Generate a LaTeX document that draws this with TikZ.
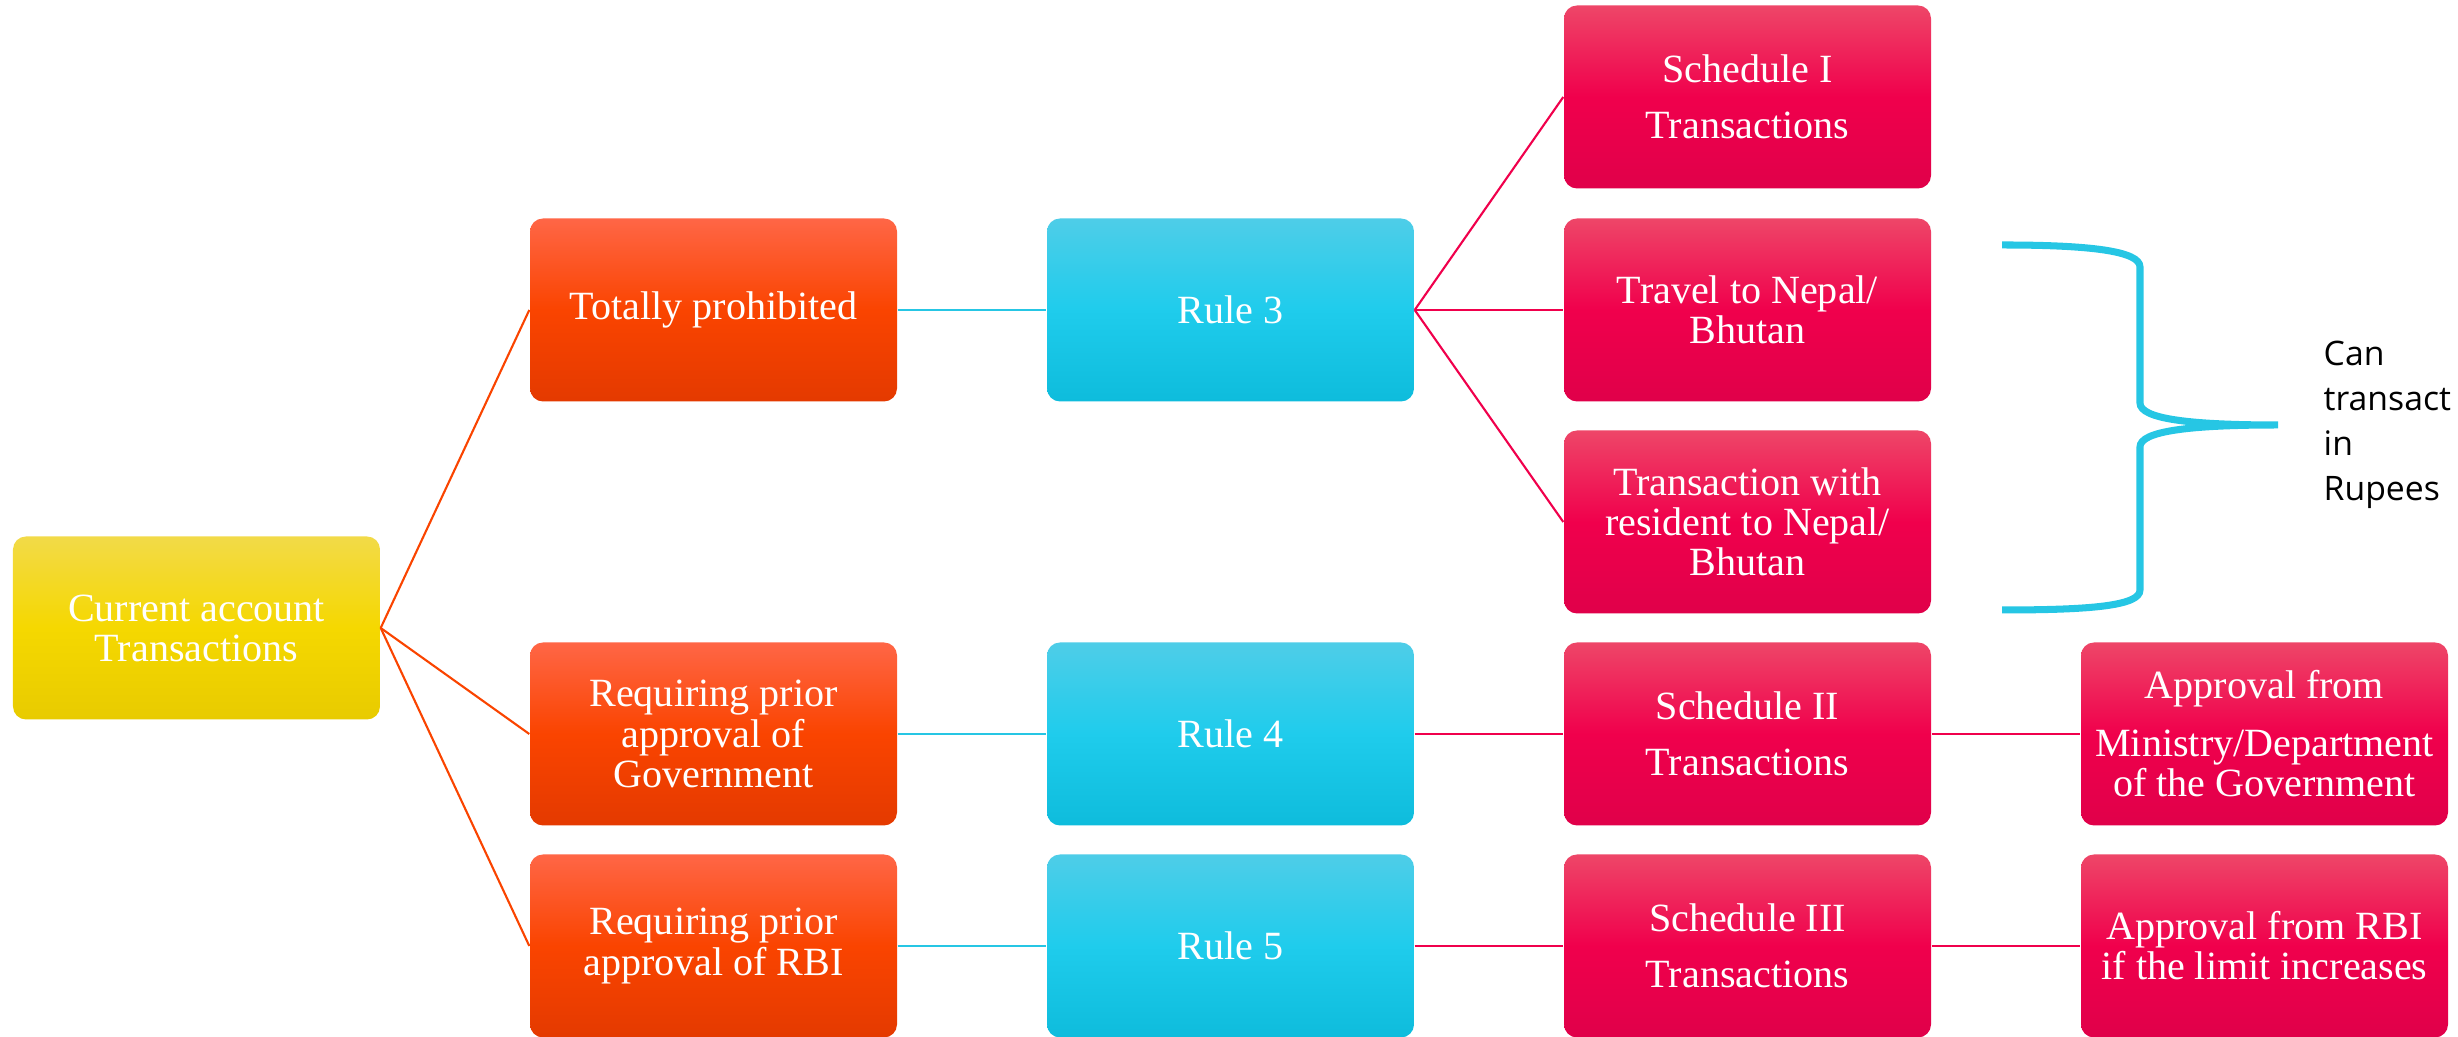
\documentclass[tikz,border=0pt]{standalone}
\usepackage{fontspec}
\setmainfont{Liberation Serif}
\newfontfamily\hinweisschrift{Open Sans}
\usetikzlibrary{positioning}

\begin{document}
\begin{tikzpicture}[node distance=5.17cm,auto]
\definecolor{gelbA}{RGB}{242,218,72}\definecolor{gelbB}{RGB}{245,216,0}\definecolor{gelbC}{RGB}{232,203,0}
\definecolor{orangeA}{RGB}{255,102,70}\definecolor{orangeB}{RGB}{250,68,0}\definecolor{orangeC}{RGB}{228,58,0}
\definecolor{tuerkisA}{RGB}{78,205,232}\definecolor{tuerkisB}{RGB}{31,204,236}\definecolor{tuerkisC}{RGB}{14,188,220}
\definecolor{rotA}{RGB}{238,70,104}\definecolor{rotB}{RGB}{240,0,76}\definecolor{rotC}{RGB}{224,0,74}
\definecolor{klammer}{RGB}{38,198,228}
\tikzstyle{kasten}=[rectangle,rounded corners=0.13cm,minimum width=3.67cm,minimum height=1.83cm,inner sep=2pt,align=center,text=white,font=\fontsize{11.4pt}{11.4pt}\selectfont]
\tikzstyle{wurzel}=[kasten,top color=gelbA,bottom color=gelbC,middle color=gelbB]
\tikzstyle{stufe}=[kasten,top color=orangeA,bottom color=orangeC,middle color=orangeB]
\tikzstyle{regel}=[kasten,top color=tuerkisA,bottom color=tuerkisC,middle color=tuerkisB]
\tikzstyle{liste}=[kasten,top color=rotA,bottom color=rotC,middle color=rotB]
\tikzstyle{linie}=[line width=0.6pt]

\useasboundingbox (0,0) rectangle (24.58,10.37);

\node[wurzel] (konto) at (1.965,4.09) {Current account\\Transactions};
% erste Spalte
\node[stufe] (verboten) at (7.135,7.27) {Totally prohibited};
\node[stufe] (regierung) at (7.135,3.03) {Requiring prior\\approval of\\Government};
\node[stufe] (rbi) at (7.135,0.91) {Requiring prior\\approval of RBI};
% Regeln
\node[regel,right of=verboten] (regel3) {Rule 3};
\node[regel,right of=regierung] (regel4) {Rule 4};
\node[regel,right of=rbi] (regel5) {Rule 5};
% Schedules
\node[liste,right of=regel3] (reise) {Travel to Nepal/\\Bhutan};
\node[liste,node distance=2.13cm,above of=reise] (schedEins) {Schedule I\\[0.16cm]Transactions};
\node[liste,node distance=2.12cm,below of=reise] (bewohner) {Transaction with\\resident to Nepal/\\Bhutan};
\node[liste,right of=regel4] (schedZwei) {Schedule II\\[0.16cm]Transactions};
\node[liste,right of=regel5] (schedDrei) {Schedule III\\[0.16cm]Transactions};
\node[liste,right of=schedZwei] (ministerium) {Approval from\\[0.18cm]Ministry/Department\\of the Government};
\node[liste,right of=schedDrei] (rbiOk) {Approval from RBI\\if the limit increases};

\draw[linie,orangeB] (konto.east) -- (verboten.west);
\draw[linie,orangeB] (konto.east) -- (regierung.west);
\draw[linie,orangeB] (konto.east) -- (rbi.west);

\draw[linie,klammer] (verboten) -- (regel3);
\draw[linie,klammer] (regierung) -- (regel4);
\draw[linie,klammer] (rbi) -- (regel5);

\draw[linie,rotB] (regel3.east) -- (schedEins.west);
\draw[linie,rotB] (regel3.east) -- (reise.west);
\draw[linie,rotB] (regel3.east) -- (bewohner.west);
\draw[linie,rotB] (regel4) -- (schedZwei);
\draw[linie,rotB] (regel5) -- (schedDrei);
\draw[linie,rotB] (schedZwei) -- (ministerium);
\draw[linie,rotB] (schedDrei) -- (rbiOk);

% Klammer rechts
\coordinate (spitze) at (22.78,6.12);
\draw[klammer,line width=2pt] (20.02,7.92) .. controls (20.9,7.92) and (21.4,7.86) .. (21.4,7.70)
  -- (21.4,6.34) .. controls (21.4,6.18) and (21.9,6.12) .. (spitze)
  .. controls (21.9,6.12) and (21.4,6.06) .. (21.4,5.90)
  -- (21.4,4.47) .. controls (21.4,4.31) and (20.9,4.27) .. (20.02,4.27);
\node[right=0.45cm of spitze,align=left,font=\hinweisschrift\fontsize{9.6pt}{12.8pt}\selectfont,inner sep=0pt] (hinweis) {Can\\transact\\in\\Rupees};
\end{tikzpicture}
\end{document}
